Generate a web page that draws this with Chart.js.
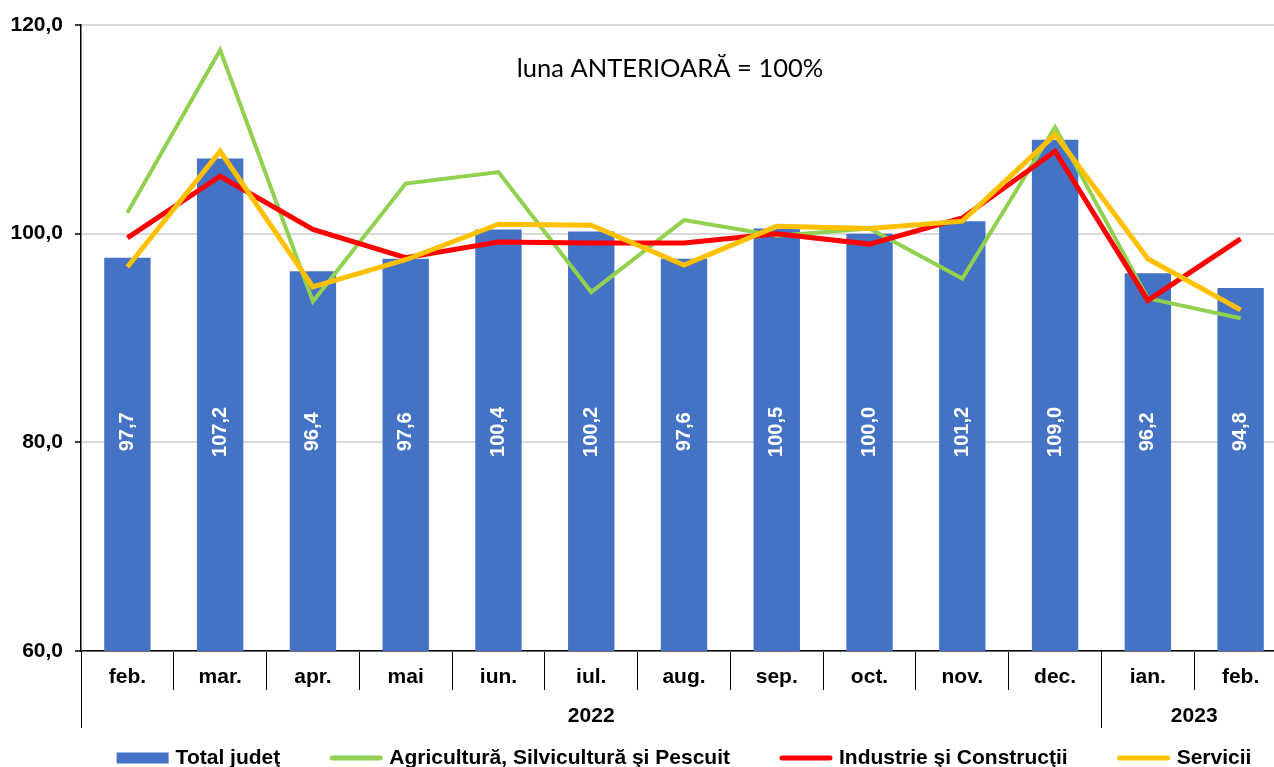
<!DOCTYPE html>
<html lang="ro">
  <head>
    <meta charset="UTF-8" />
    <meta name="viewport" content="width=device-width, initial-scale=1.0" />
    <title>Indici lunari - luna anterioara = 100%</title>
    <script src="https://cdn.jsdelivr.net/npm/chart.js"></script>
    <style>
      html,
      body {
        margin: 0;
        padding: 0;
        background: #fff;
        overflow: hidden;
      }
      .chart-box {
        width: 1287px;
        height: 767px;
      }
    </style>
  </head>
  <body>
    <div class="chart-box">
      <canvas id="indexChart"></canvas>
    </div>

    <script>
      // categories
      const months = ["feb.", "mar.", "apr.", "mai", "iun.", "iul.", "aug.", "sep.", "oct.", "nov.", "dec.", "ian.", "feb."];
      const years = ["2022", "2023"];
      const monthsPerYear = [11, 2];

      // series
      const seriesNames = ["Total judeţ", "Agricultură, Silvicultură şi Pescuit", "Industrie şi Construcţii", "Servicii"];
      const totalJudet = [97.7, 107.2, 96.4, 97.6, 100.4, 100.2, 97.6, 100.5, 100.0, 101.2, 109.0, 96.2, 94.8];
      const agricultura = [102.0, 117.6, 93.5, 104.8, 105.9, 94.4, 101.3, 99.8, 100.5, 95.7, 110.2, 93.8, 91.9];
      const industrie = [99.6, 105.5, 100.4, 97.7, 99.2, 99.1, 99.1, 100.0, 99.0, 101.5, 107.9, 93.6, 99.5];
      const servicii = [96.8, 107.9, 94.9, 97.5, 100.9, 100.8, 97.0, 100.7, 100.5, 101.2, 109.5, 97.6, 92.7];

      // value axis
      const yTicks = [60, 80, 100, 120];
      const noteText = "luna ANTERIOARĂ = 100%";

      const seriesColors = ["#4472C4", "#92D050", "#FF0000", "#FFC000"];
      const boldFont = "bold 21px 'Liberation Sans', Arial, sans-serif";

      const fmt = (v) => v.toFixed(1).replace(".", ",");

      Chart.defaults.font.family = "'Liberation Sans', Arial, sans-serif";
      Chart.defaults.color = "#000";

      // white vertical value labels inside the bars
      const barLabels = {
        id: "barLabels",
        afterDatasetsDraw(chart) {
          const ctx = chart.ctx;
          const y = chart.scales.y.getPixelForValue(81);
          ctx.save();
          ctx.fillStyle = "#fff";
          ctx.font = "bold 20px 'Liberation Sans', Arial, sans-serif";
          ctx.textAlign = "center";
          ctx.textBaseline = "middle";
          chart.getDatasetMeta(0).data.forEach((bar, i) => {
            ctx.save();
            ctx.translate(bar.x, y);
            ctx.rotate(-Math.PI / 2);
            ctx.fillText(fmt(totalJudet[i]), 0, 0);
            ctx.restore();
          });
          ctx.restore();
        },
      };

      // second row of the category axis: years with long separators
      const yearRow = {
        id: "yearRow",
        afterDraw(chart) {
          const ctx = chart.ctx;
          const xs = chart.scales.x;
          const step = xs.getPixelForValue(1) - xs.getPixelForValue(0);
          const edge = (i) => xs.getPixelForValue(i) - step / 2;
          const top = xs.top;
          ctx.save();
          ctx.strokeStyle = "#000";
          ctx.lineWidth = 1;
          ctx.fillStyle = "#000";
          ctx.font = boldFont;
          ctx.textAlign = "center";
          ctx.textBaseline = "middle";
          let start = 0;
          years.forEach((year, k) => {
            const end = start + monthsPerYear[k];
            const x0 = Math.round(edge(start)) + 0.5;
            ctx.beginPath();
            ctx.moveTo(x0, top);
            ctx.lineTo(x0, top + 77);
            ctx.stroke();
            ctx.fillText(year, (edge(start) + edge(end)) / 2, top + 65);
            start = end;
          });
          const xe = Math.round(edge(start)) + 0.5;
          ctx.beginPath();
          ctx.moveTo(xe, top);
          ctx.lineTo(xe, top + 77);
          ctx.stroke();
          ctx.restore();
        },
      };

      // note inside the plot area
      const note = {
        id: "note",
        afterDraw(chart) {
          const { ctx, chartArea } = chart;
          ctx.save();
          ctx.fillStyle = "#000";
          ctx.font = "25.5px Lato, 'Open Sans', sans-serif";
          ctx.textAlign = "center";
          ctx.textBaseline = "middle";
          ctx.fillText(noteText, (chartArea.left + chartArea.right) / 2 - 14, chartArea.top + 44);
          ctx.restore();
        },
      };

      // legend in one row under the axis
      const bottomLegend = {
        id: "bottomLegend",
        afterDraw(chart) {
          const { ctx, chartArea } = chart;
          const swatch = 52;
          const gap = 50;
          ctx.save();
          ctx.font = boldFont;
          const widths = seriesNames.map((name) => swatch + 7 + ctx.measureText(name).width);
          const total = widths.reduce((a, b) => a + b, 0) + gap * (widths.length - 1);
          let x = (chartArea.left + chartArea.right) / 2 - total / 2;
          const y = chart.height - 9;
          seriesNames.forEach((name, i) => {
            if (i === 0) {
              ctx.fillStyle = seriesColors[i];
              ctx.fillRect(x, y - 5.5, swatch, 11);
            } else {
              ctx.strokeStyle = seriesColors[i];
              ctx.lineWidth = 5;
              ctx.lineCap = "round";
              ctx.beginPath();
              ctx.moveTo(x + 2, y);
              ctx.lineTo(x + swatch - 2, y);
              ctx.stroke();
            }
            ctx.fillStyle = "#000";
            ctx.textAlign = "left";
            ctx.textBaseline = "middle";
            ctx.fillText(name, x + swatch + 7, y);
            x += widths[i] + gap;
          });
          ctx.restore();
        },
      };

      const lineSet = (label, data, color, width, order) => ({
        type: "line",
        label: label,
        data: data,
        borderColor: color,
        backgroundColor: color,
        borderWidth: width,
        pointRadius: 0,
        tension: 0,
        order: order,
      });

      new Chart(document.getElementById("indexChart"), {
        type: "bar",
        data: {
          labels: months,
          datasets: [
            {
              type: "bar",
              label: seriesNames[0],
              data: totalJudet,
              backgroundColor: seriesColors[0],
              barPercentage: 0.5,
              categoryPercentage: 1,
              order: 4,
            },
            lineSet(seriesNames[1], agricultura, seriesColors[1], 4, 3),
            lineSet(seriesNames[2], industrie, seriesColors[2], 5, 2),
            lineSet(seriesNames[3], servicii, seriesColors[3], 5, 1),
          ],
        },
        options: {
          responsive: true,
          maintainAspectRatio: false,
          animation: false,
          layout: { padding: { top: 25, left: 0, right: 0, bottom: 78 } },
          plugins: {
            legend: { display: false },
            tooltip: { enabled: false },
          },
          scales: {
            x: {
              offset: true,
              afterFit: (s) => {
                s.height = 38;
              },
              grid: { display: true, drawOnChartArea: false, offset: true, color: "#000", lineWidth: 1, tickLength: 39 },
              border: { display: true, color: "#000", width: 1.5 },
              ticks: { font: { size: 21, weight: "bold" }, color: "#000", padding: -25, maxRotation: 0, autoSkip: false },
            },
            y: {
              min: yTicks[0],
              max: yTicks[yTicks.length - 1],
              afterBuildTicks: (s) => {
                s.ticks = yTicks.map((v) => ({ value: v }));
              },
              afterFit: (s) => {
                s.width = 81;
              },
              grid: { color: "#d9d9d9", lineWidth: 2, tickLength: 6, tickColor: "#000", tickWidth: 1.5 },
              border: { color: "#000", width: 1.5 },
              ticks: { font: { size: 21, weight: "bold" }, color: "#000", padding: 12, callback: (v) => fmt(v) },
            },
          },
        },
        plugins: [barLabels, yearRow, note, bottomLegend],
      });
    </script>
  </body>
</html>
